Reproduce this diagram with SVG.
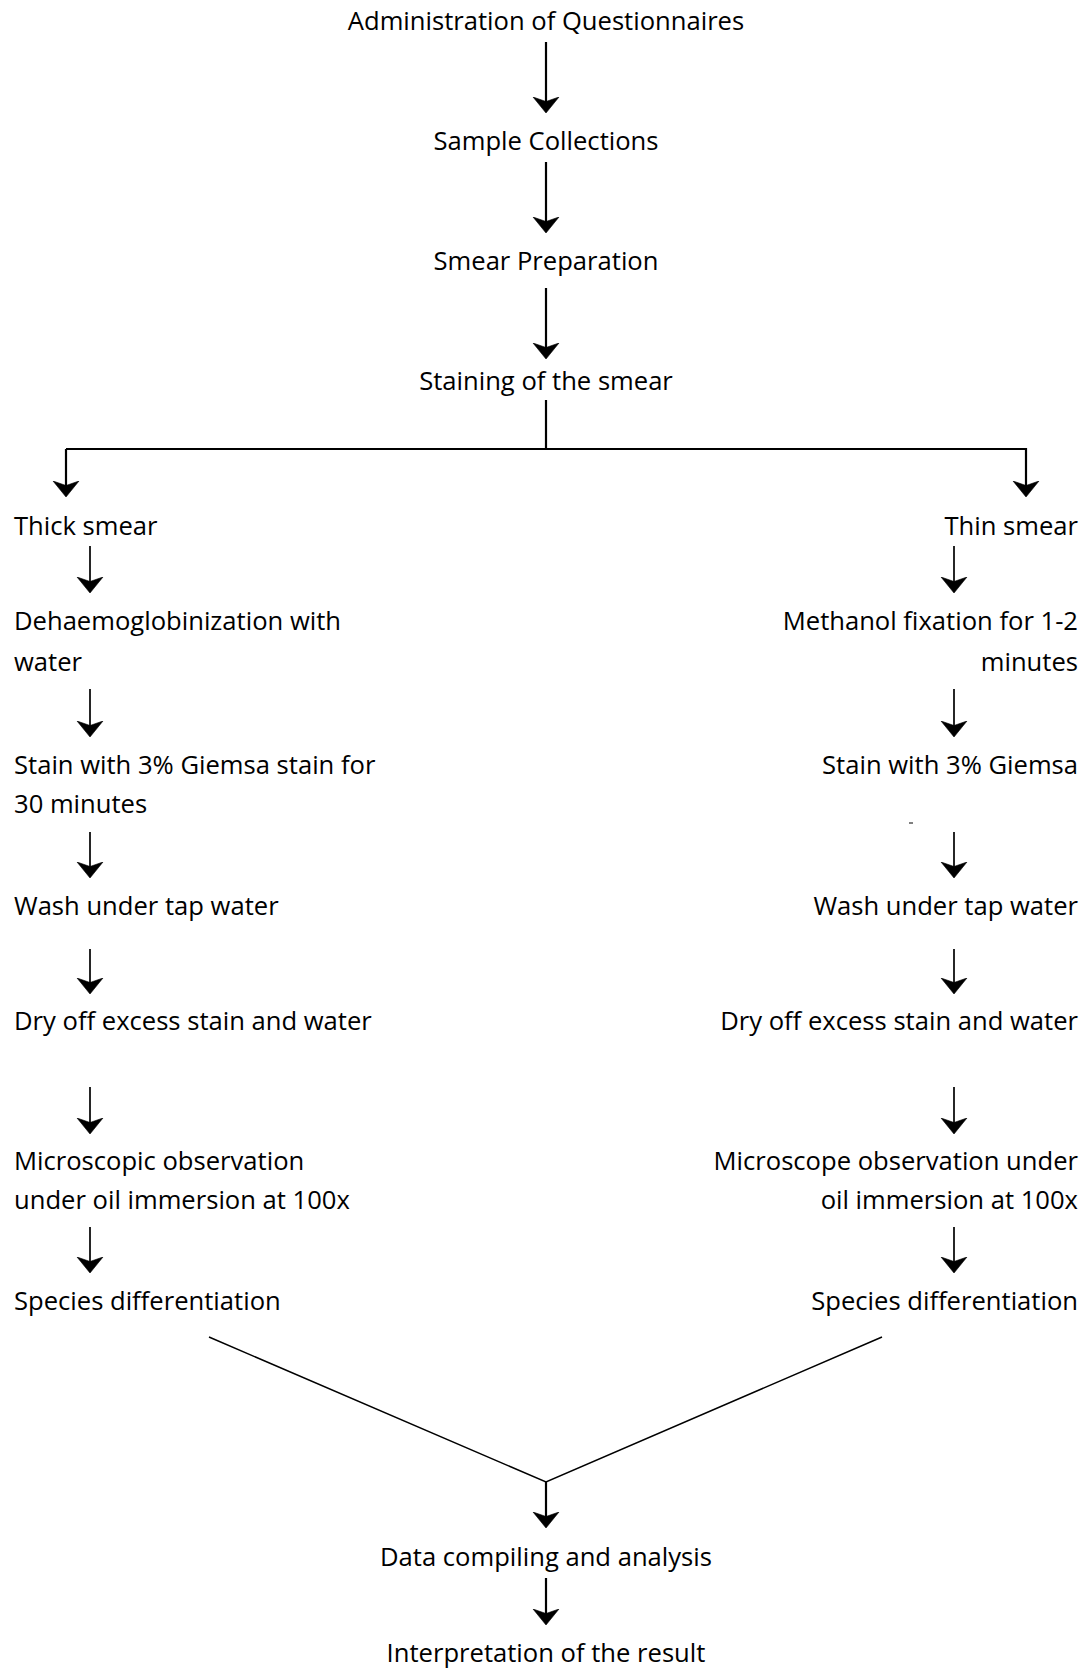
<svg xmlns="http://www.w3.org/2000/svg" width="1090" height="1669" viewBox="0 0 1090 1669">
<style>
  text { font-family: "Open Sans", "Noto Sans", "Liberation Sans", sans-serif; font-size: 25.6px; fill: #000; }
  .c { text-anchor: middle; }
  .l { text-anchor: start; }
  .r { text-anchor: end; }
  .thick { stroke: #000; stroke-width: 2.2; fill: none; }
  .thin { stroke: #000; stroke-width: 1.7; fill: none; }
  .plain { stroke: #000; stroke-width: 1.5; fill: none; }
</style>
<defs>
  <marker id="ah" viewBox="0 -14 17 28" refX="5" refY="0" markerWidth="17" markerHeight="28" markerUnits="userSpaceOnUse" orient="auto">
    <path d="M16,0 L0,-13 L4.5,0 L0,13 Z" fill="#000" stroke="#000" stroke-width="0.6" stroke-linejoin="miter"/>
  </marker>
</defs>
<rect width="1090" height="1669" fill="#fff"/>

<g id="connectors">
  <line class="thick" x1="546" y1="42" x2="546" y2="102" marker-end="url(#ah)"/>
  <line class="thick" x1="546" y1="162" x2="546" y2="222" marker-end="url(#ah)"/>
  <line class="thick" x1="546" y1="288" x2="546" y2="348" marker-end="url(#ah)"/>
  <polyline class="thick" points="546,400 546,449"/>
  <polyline class="thick" points="66,449 1026,449 1026,486" marker-end="url(#ah)"/>
  <line class="thick" x1="66" y1="449" x2="66" y2="486" marker-end="url(#ah)"/>
  <line class="thin" x1="90" y1="546" x2="90" y2="582" marker-end="url(#ah)"/>
  <line class="thin" x1="90" y1="689" x2="90" y2="726" marker-end="url(#ah)"/>
  <line class="thin" x1="90" y1="832" x2="90" y2="867" marker-end="url(#ah)"/>
  <line class="thin" x1="90" y1="949" x2="90" y2="983" marker-end="url(#ah)"/>
  <line class="thin" x1="90" y1="1087" x2="90" y2="1123" marker-end="url(#ah)"/>
  <line class="thin" x1="90" y1="1227" x2="90" y2="1262" marker-end="url(#ah)"/>
  <line class="thin" x1="954" y1="546" x2="954" y2="582" marker-end="url(#ah)"/>
  <line class="thin" x1="954" y1="689" x2="954" y2="726" marker-end="url(#ah)"/>
  <line class="thin" x1="954" y1="832" x2="954" y2="867" marker-end="url(#ah)"/>
  <line class="thin" x1="954" y1="949" x2="954" y2="983" marker-end="url(#ah)"/>
  <line class="thin" x1="954" y1="1087" x2="954" y2="1123" marker-end="url(#ah)"/>
  <line class="thin" x1="954" y1="1227" x2="954" y2="1262" marker-end="url(#ah)"/>
  <polyline class="plain" points="209,1337 546,1482 882,1337"/>
  <line class="thick" x1="546" y1="1482" x2="546" y2="1517" marker-end="url(#ah)"/>
  <line class="thick" x1="546" y1="1578" x2="546" y2="1614" marker-end="url(#ah)"/>
  <line x1="909" y1="823" x2="913" y2="823" stroke="#000" stroke-width="1"/>
</g>

<g id="n-admin"><text class="c" x="546" y="30">Administration of Questionnaires</text></g>
<g id="n-sample"><text class="c" x="546" y="150">Sample Collections</text></g>
<g id="n-smear"><text class="c" x="546" y="270">Smear Preparation</text></g>
<g id="n-staining"><text class="c" x="546" y="390">Staining of the smear</text></g>

<g id="n-thick"><text class="l" x="14" y="535">Thick smear</text></g>
<g id="n-dehaem"><text class="l" x="14" y="630">Dehaemoglobinization with</text><text class="l" x="14" y="671">water</text></g>
<g id="n-stain-l"><text class="l" x="14" y="774">Stain with 3% Giemsa stain for</text><text class="l" x="14" y="813">30 minutes</text></g>
<g id="n-wash-l"><text class="l" x="14" y="915">Wash under tap water</text></g>
<g id="n-dry-l"><text class="l" x="14" y="1030">Dry off excess stain and water</text></g>
<g id="n-micro-l"><text class="l" x="14" y="1170">Microscopic observation</text><text class="l" x="14" y="1209">under oil immersion at 100x</text></g>
<g id="n-species-l"><text class="l" x="14" y="1310">Species differentiation</text></g>

<g id="n-thin"><text class="r" x="1078" y="535">Thin smear</text></g>
<g id="n-methanol"><text class="r" x="1078" y="630">Methanol fixation for 1-2</text><text class="r" x="1078" y="671">minutes</text></g>
<g id="n-stain-r"><text class="r" x="1078" y="774">Stain with 3% Giemsa</text></g>
<g id="n-wash-r"><text class="r" x="1078" y="915">Wash under tap water</text></g>
<g id="n-dry-r"><text class="r" x="1078" y="1030">Dry off excess stain and water</text></g>
<g id="n-micro-r"><text class="r" x="1078" y="1170">Microscope observation under</text><text class="r" x="1078" y="1209">oil immersion at 100x</text></g>
<g id="n-species-r"><text class="r" x="1078" y="1310">Species differentiation</text></g>

<g id="n-data"><text class="c" x="546" y="1566">Data compiling and analysis</text></g>
<g id="n-interp"><text class="c" x="546" y="1662">Interpretation of the result</text></g>
</svg>
